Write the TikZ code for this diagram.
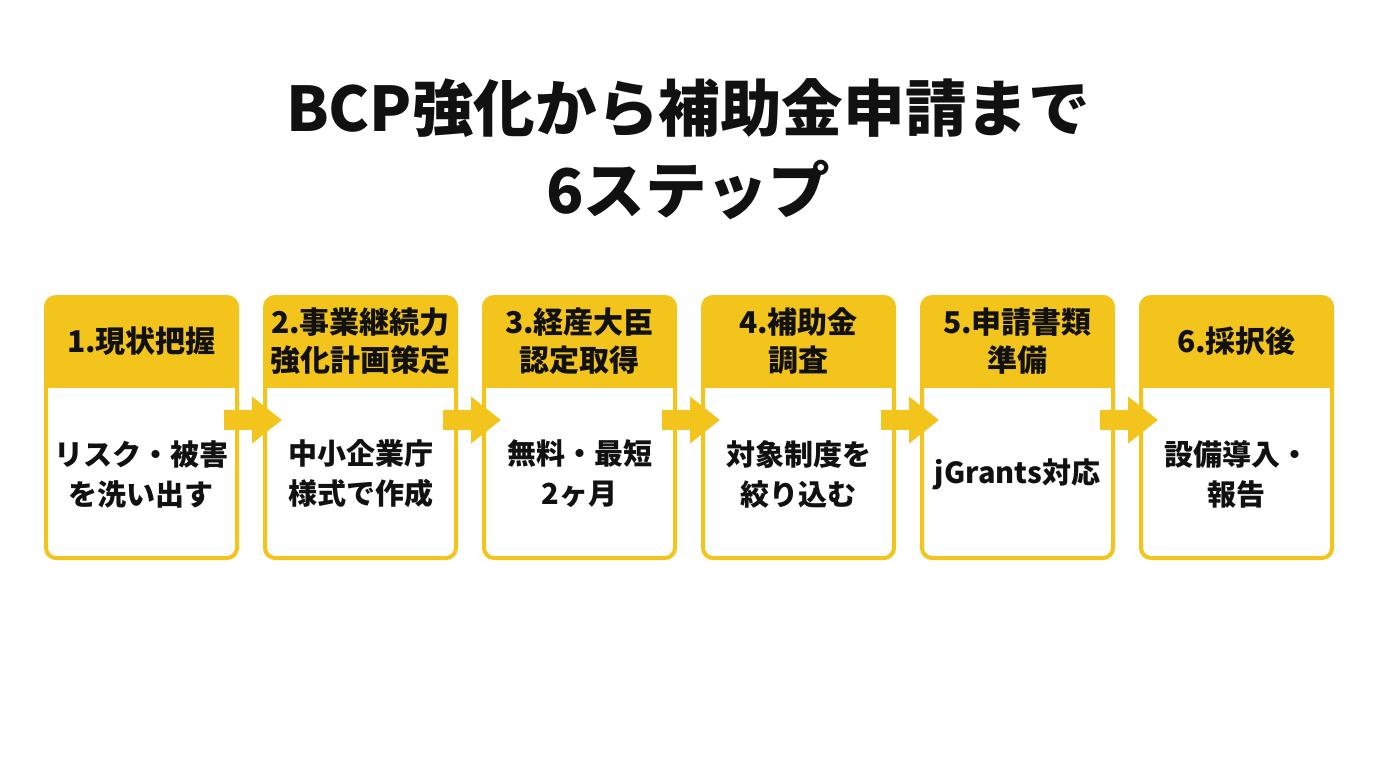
\documentclass[tikz,border=0pt]{standalone}
\usepackage{fontspec}
\setmainfont{Noto Sans CJK JP}
\usetikzlibrary{positioning, arrows.meta}
\definecolor{bcpyellow}{RGB}{242,196,28}
\definecolor{inkblack}{RGB}{17,17,17}
\tikzstyle{stepbox} = [rectangle, rounded corners=5pt, minimum width=95.5pt, minimum height=130.5pt, draw=bcpyellow, line width=2pt, fill=white, path picture={\fill[bcpyellow, sharp corners] (path picture bounding box.north west) rectangle ([yshift=-45.5pt]path picture bounding box.north east);}]
\tikzstyle{head} = [align=center, text=inkblack, font=\fontsize{15}{19}\selectfont\bfseries]
\tikzstyle{body} = [align=center, text=inkblack, font=\fontsize{14.5}{20}\selectfont\bfseries]
\tikzstyle{flow} = [draw=bcpyellow, line width=10pt, -{Triangle[width=22.5pt,length=15pt]}]

\begin{document}
\begin{tikzpicture}[x=0.5pt, y=-0.5pt]
            \useasboundingbox (0,0) rectangle (1376,768);
            \node (title) at (688,149) [align=center, text=inkblack, font=\fontsize{30.8}{41}\selectfont\bfseries] {BCP強化から補助金申請まで\\6ステップ};

            % steps
            \node (s1) at (141.5,427.5) [stepbox] {};
            \node (s2) [stepbox, right=12pt of s1] {};
            \node (s3) [stepbox, right=12pt of s2] {};
            \node (s4) [stepbox, right=12pt of s3] {};
            \node (s5) [stepbox, right=12pt of s4] {};
            \node (s6) [stepbox, right=12pt of s5] {};

            \node (h1) [head] at ([yshift=-23.25pt]s1.north) {1.現状把握};
            \node (h2) [head] at ([yshift=-23.25pt]s2.north) {2.事業継続力\\強化計画策定};
            \node (h3) [head] at ([yshift=-23.25pt]s3.north) {3.経産大臣\\認定取得};
            \node (h4) [head] at ([yshift=-23.25pt]s4.north) {4.補助金\\調査};
            \node (h5) [head] at ([yshift=-23.25pt]s5.north) {5.申請書類\\準備};
            \node (h6) [head] at ([yshift=-23.25pt]s6.north) {6.採択後};

            \node (t1) [body] at ([yshift=43pt]s1.south) {リスク・被害\\を洗い出す};
            \node (t2) [body] at ([yshift=43pt]s2.south) {中小企業庁\\様式で作成};
            \node (t3) [body] at ([yshift=43pt]s3.south) {無料・最短\\2ヶ月};
            \node (t4) [body] at ([yshift=43pt]s4.south) {対象制度を\\絞り込む};
            \node (t5) [body] at ([yshift=43pt]s5.south) {jGrants対応};
            \node (t6) [body] at ([yshift=43pt]s6.south) {設備導入・\\報告};

            % arrows
            \draw [flow] ([xshift=-7.5pt, yshift=3.75pt]s1.east) -- ([xshift=9.5pt, yshift=3.75pt]s2.west);
            \draw [flow] ([xshift=-7.5pt, yshift=3.75pt]s2.east) -- ([xshift=9.5pt, yshift=3.75pt]s3.west);
            \draw [flow] ([xshift=-7.5pt, yshift=3.75pt]s3.east) -- ([xshift=9.5pt, yshift=3.75pt]s4.west);
            \draw [flow] ([xshift=-7.5pt, yshift=3.75pt]s4.east) -- ([xshift=9.5pt, yshift=3.75pt]s5.west);
            \draw [flow] ([xshift=-7.5pt, yshift=3.75pt]s5.east) -- ([xshift=9.5pt, yshift=3.75pt]s6.west);
\end{tikzpicture}
\end{document}
